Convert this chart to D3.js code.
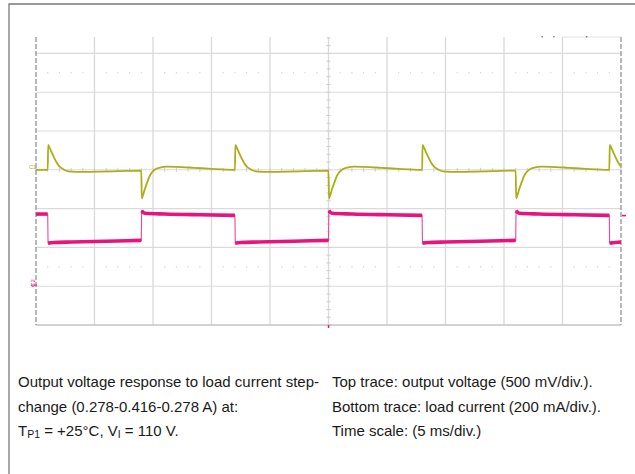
<!DOCTYPE html>
<html>
<head>
<meta charset="utf-8">
<script src="https://cdn.jsdelivr.net/npm/d3@7"></script>
<style>
  html, body { margin: 0; padding: 0; background: #fff; }
  svg { display: block; font-family: "Liberation Sans", Arial, sans-serif; }
</style>
</head>
<body>
<div id="chart"></div>
<script>
// scope settings (from caption): 5 ms/div, 500 mV/div, 200 mA/div
const TIME_DOMAIN = [0, 50];          // ms across 10 divisions
const DIV_DOMAIN = [-4, 4];           // vertical divisions, screen centre = 0
const MV_PER_DIV = 500;
const MA_PER_DIV = 200;
const C2_GROUND_DIV = -2.92;          // position of the C2 marker

// load-current edges (ms)
const fallEdges = [1, 17, 33, 49];    // 0.416 -> 0.278 A
const riseEdges = [9, 25, 41];        // 0.278 -> 0.416 A

// output voltage transient after a load release: [ms after edge, mV]
const releaseShape = [
  [0, 0], [0.04, 320], [0.2, 272], [0.4, 205], [0.6, 140], [0.8, 85], [1.0, 45],
  [1.3, 10], [1.6, -12], [2.0, -24], [3.0, -27], [4.5, -24], [6.0, -18], [8.0, -10]
];
// output voltage transient after a load step up: [ms after edge, mV]
const stepShape = [
  [0, -10], [0.04, -370], [0.15, -325], [0.3, -250], [0.5, -165], [0.7, -85],
  [0.9, -35], [1.2, 8], [1.6, 28], [2.2, 40], [3.0, 38], [4.5, 26], [6.0, 12], [8.0, 0]
];
// load current levels: [ms after edge, mA]
const lowCurrent = [[0.03, 206], [0.5, 209], [2, 212], [5, 216], [8, 220]];
const highCurrent = [[0.03, 373], [0.3, 360], [2, 356], [5, 352], [8, 349]];
const startVoltage = [[0, 0], [1, 0]];
const startCurrent = [[0, 356], [1, 356]];

const captionLeft = [
  [{ t: "Output voltage response to load current step-" }],
  [{ t: "change (0.278-0.416-0.278 A) at:" }],
  [{ t: "T" }, { t: "P1", sub: true }, { t: " = +25°C, V" }, { t: "I", sub: true }, { t: " = 110 V." }]
];
const captionRight = [
  "Top trace: output voltage (500 mV/div.).",
  "Bottom trace: load current (200 mA/div.).",
  "Time scale: (5 ms/div.)"
];

const width = 635, height = 474;
const plot = { left: 36, right: 621, top: 37, bottom: 325 };

const svg = d3.select("#chart").append("svg")
  .attr("width", width).attr("height", height);

svg.append("rect").attr("width", width).attr("height", height).attr("fill", "#fff");

// outer frame (top + left)
svg.append("path")
  .attr("d", `M9,${height} V4 H${width}`)
  .attr("fill", "none").attr("stroke", "#7a7a7a").attr("stroke-width", 1.3);

const x = d3.scaleLinear().domain(TIME_DOMAIN).range([plot.left, plot.right]);
const y = d3.scaleLinear().domain(DIV_DOMAIN).range([plot.bottom, plot.bottom - 8 * 38.8]);

const grid = svg.append("g");
const xDivs = d3.range(0, 11).map((d) => d * 5);
grid.selectAll("line.v").data(xDivs.slice(1, 10)).join("line")
  .attr("x1", (d) => x(d)).attr("x2", (d) => x(d))
  .attr("y1", plot.top).attr("y2", plot.bottom)
  .attr("stroke", "#d9d9d9").attr("stroke-width", 1.3);
grid.selectAll("line.h").data([-3, -2, -1, 0, 1, 2, 3]).join("line")
  .attr("x1", plot.left).attr("x2", plot.right)
  .attr("y1", (d) => y(d)).attr("y2", (d) => y(d))
  .attr("stroke", "#dadada").attr("stroke-width", 1.1);

// dotted rows at +/-2.5 div
const dotXs = d3.range(0, 50, 1).filter((d) => d % 5 !== 0);
[2.5, -2.5].forEach((row) => {
  grid.append("g").selectAll("rect").data(dotXs).join("rect")
    .attr("x", (d) => x(d) - 0.6).attr("y", y(row) - 0.6)
    .attr("width", 1.2).attr("height", 1.2).attr("fill", "#d0d0d0");
});

// ticks on centre axes
const yTicks = d3.range(-4, 3.6, 0.2);
grid.append("g").selectAll("line").data(yTicks).join("line")
  .attr("x1", x(25) - 2).attr("x2", x(25) + 2)
  .attr("y1", (d) => y(d)).attr("y2", (d) => y(d))
  .attr("stroke", "#cdcdcd").attr("stroke-width", 1);
const xTicks = d3.range(0, 50.1, 1);
grid.append("g").selectAll("line").data(xTicks).join("line")
  .attr("x1", (d) => x(d)).attr("x2", (d) => x(d))
  .attr("y1", y(0) - 2).attr("y2", y(0) + 2)
  .attr("stroke", "#cdcdcd").attr("stroke-width", 1);

// bottom edge + dashed side edges
grid.append("line").attr("x1", plot.left).attr("x2", plot.right)
  .attr("y1", plot.bottom).attr("y2", plot.bottom)
  .attr("stroke", "#c4c4c4").attr("stroke-width", 1.3);
[0, 50].forEach((t) => {
  grid.append("line").attr("x1", x(t)).attr("x2", x(t))
    .attr("y1", plot.top).attr("y2", plot.bottom)
    .attr("stroke", "#8a8a8a").attr("stroke-width", 1.2)
    .attr("stroke-dasharray", "5,2");
});
// faint top fragment at right
grid.append("line").attr("x1", x(45)).attr("x2", plot.right)
  .attr("y1", plot.top).attr("y2", plot.top)
  .attr("stroke", "#e2e2e2").attr("stroke-width", 1);
grid.selectAll("rect.tm").data([43.2, 44.2, 47]).join("rect")
  .attr("x", (d) => x(d)).attr("y", plot.top - 1).attr("width", 1.5).attr("height", 1.5)
  .attr("fill", "#888");

// build traces from edges + shapes
const edges = [
  ...fallEdges.map((t) => ({ t, type: "fall" })),
  ...riseEdges.map((t) => ({ t, type: "rise" }))
].sort((a, b) => a.t - b.t);

const voltage = startVoltage.map(([t, v]) => ({ t, v }));
const currentSegs = [startCurrent.map(([t, v]) => ({ t, v }))];
edges.forEach((e) => {
  const vShape = e.type === "fall" ? releaseShape : stepShape;
  const iShape = e.type === "fall" ? lowCurrent : highCurrent;
  vShape.forEach(([dt, v]) => { if (e.t + dt <= 50) voltage.push({ t: e.t + dt, v }); });
  currentSegs.push(iShape.map(([dt, v]) => ({ t: Math.min(e.t + dt, 50), v })).filter((p, i, a) => i === 0 || p.t > a[i - 1].t));
});

const vLine = d3.line().x((d) => x(d.t)).y((d) => y(d.v / MV_PER_DIV)).curve(d3.curveMonotoneX);
const iY = (d) => y(C2_GROUND_DIV + d.v / MA_PER_DIV);

// current: thin full trace, thick noisy levels
const allCurrent = [];
currentSegs.forEach((seg) => seg.forEach((p) => allCurrent.push(p)));
svg.append("path").datum(allCurrent)
  .attr("d", d3.line().x((d) => x(d.t)).y(iY))
  .attr("fill", "none").attr("stroke", "#e24a9a").attr("stroke-width", 1.1);
svg.append("g").selectAll("path").data(currentSegs).join("path")
  .attr("d", d3.line().x((d) => x(d.t)).y(iY).curve(d3.curveMonotoneX))
  .attr("fill", "none").attr("stroke", "#e8137f").attr("stroke-width", 3.6)
  .attr("stroke-linecap", "butt");

svg.append("path").datum(voltage)
  .attr("d", vLine)
  .attr("fill", "none").attr("stroke", "#adad18").attr("stroke-width", 1.8)
  .attr("stroke-linejoin", "round");

// channel markers
svg.append("text").attr("x", 29).attr("y", y(0) - 1)
  .attr("font-size", 6).attr("fill", "#adad18").text("C1");
svg.append("text")
  .attr("transform", `translate(35,${y(C2_GROUND_DIV)}) rotate(-90)`)
  .attr("text-anchor", "middle").attr("font-size", 6).attr("fill", "#e8137f").text("C2");
svg.append("line").attr("x1", 31).attr("x2", 37)
  .attr("y1", y(C2_GROUND_DIV) + 2).attr("y2", y(C2_GROUND_DIV) + 2)
  .attr("stroke", "#e8137f").attr("stroke-width", 1);
svg.append("rect").attr("x", x(25) - 0.7).attr("y", plot.bottom).attr("width", 1.5).attr("height", 3)
  .attr("fill", "#e8137f");
svg.append("line").attr("x1", plot.right + 1).attr("x2", plot.right + 5)
  .attr("y1", iY({ v: 348 })).attr("y2", iY({ v: 348 }))
  .attr("stroke", "#e8137f").attr("stroke-width", 1.6);

// caption
const lineY = [387, 411.5, 436];
const capL = svg.append("g").attr("font-size", 15).attr("fill", "#1a1a1a");
captionLeft.forEach((parts, i) => {
  const t = capL.append("text").attr("x", 18).attr("y", lineY[i]);
  parts.forEach((p) => {
    const s = t.append("tspan").text(p.t);
    if (p.sub) s.attr("font-size", 10.5).attr("dy", 2);
    else if (i === 2 && p !== parts[0]) s.attr("dy", -2);
  });
});
capL.selectAll("text.r").data(captionRight).join("text")
  .attr("x", 332).attr("y", (d, i) => lineY[i]).text((d) => d);
</script>
</body>
</html>
